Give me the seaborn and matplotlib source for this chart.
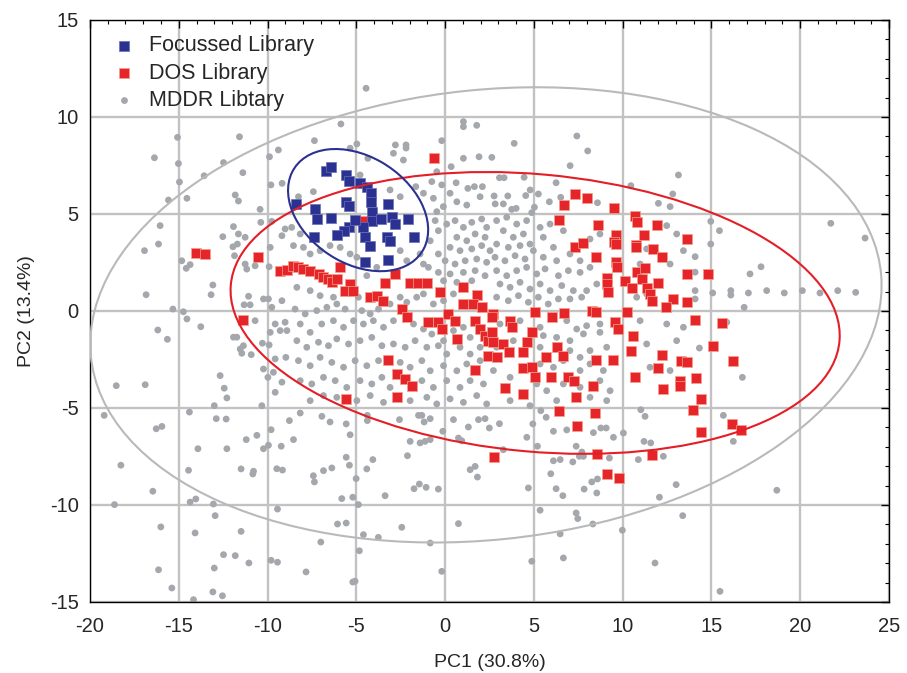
import matplotlib.pyplot as plt
import seaborn as sns
import pandas as pd
from matplotlib.patches import Ellipse
from matplotlib.ticker import MultipleLocator

sns.set_style("white")
plt.rcParams["font.family"] = ["Liberation Sans", "DejaVu Sans"]
plt.rcParams["axes.unicode_minus"] = False

# Focussed library (blue squares), PC1/PC2 scores
focussed_pts = [
    (-6.7, 7.2), (-6.4, 7.4), (-5.6, 7.0), (-5.4, 6.7), (-4.8, 6.6), (-4.4, 6.4),
    (-4.2, 6.1), (-4.2, 5.6), (-5.6, 5.6), (-5.4, 5.4), (-8.4, 5.5), (-7.3, 5.25),
    (-3.2, 5.5), (-4.1, 5.1), (-7.22, 4.74), (-6.44, 4.79), (-5.44, 4.35), (-5.7, 4.1),
    (-6.1, 3.93), (-7.38, 3.83), (-4.13, 4.66), (-3.62, 4.74), (-3.0, 4.83), (-2.82, 4.48),
    (-2.07, 4.74), (-4.6, 4.31), (-4.5, 3.8), (-4.22, 3.33), (-3.28, 3.8), (-3.1, 3.6),
    (-1.75, 3.8), (-4.5, 2.51), (-3.19, 2.63), (-5.07, 4.69),
]

# DOS library (red squares)
dos_pts = [
    (-0.62, 7.87), (-14.02, 2.99), (-13.51, 2.94), (-10.51, 2.77), (-9.29, 2.08), (-8.91, 2.11),
    (-11.39, -0.46), (-4.64, 4.62), (-8.54, 2.33), (-8.26, 2.25), (-7.98, 2.16), (-7.6, 2.08),
    (-7.13, 1.91), (-6.85, 1.74), (-6.57, 1.65), (-6.38, 1.48), (-6.1, 1.65), (-5.91, 2.25),
    (-5.35, 1.39), (-5.63, 1.05), (-5.16, 1.01), (-4.22, 0.71), (-3.85, 0.79), (-3.47, 0.5),
    (-3.38, 1.43), (-2.82, 1.91), (-1.97, 1.43), (-1.5, 1.43), (-1.03, 1.43), (-0.28, 0.96),
    (1.03, 1.22), (1.78, 0.84), (1.03, 0.36), (1.59, 0.36), (2.07, 0.19), (-2.44, 0.1),
    (-2.16, -0.32), (-0.94, -0.58), (-0.38, -0.58), (-0.19, -0.93), (0.19, -0.15), (0.56, -0.5),
    (1.69, -0.5), (1.97, -0.93), (2.25, -1.27), (2.44, -1.53), (0.66, -1.44), (2.44, -2.3),
    (1.69, -3.04), (-3.19, -2.51), (-2.72, -3.25), (-2.25, -3.5), (-1.88, -3.88), (-2.72, -4.42),
    (-5.57, -4.54), (7.32, 6.03), (7.98, 5.81), (6.7, 5.46), (9.52, 5.29),
    (6.44, 4.69), (8.63, 4.45), (10.7, 4.9), (10.79, 4.57), (11.95, 4.45), (9.63, 3.93),
    (9.52, 3.54), (9.63, 3.45), (11.2, 3.93), (13.65, 3.71), (7.32, 3.28), (7.79, 3.49),
    (10.75, 3.42), (10.75, 3.28), (11.69, 3.2), (8.5, 2.77), (12.2, 2.8), (9.63, 2.51),
    (9.67, 2.28), (10.79, 2.0), (11.26, 2.22), (13.65, 1.91), (9.1, 1.7), (9.14, 1.39),
    (9.2, 0.96), (10.14, 1.56), (10.51, 1.19), (11.07, 1.65), (11.36, 1.19), (11.54, 0.88),
    (11.67, 0.53), (12.01, 1.43), (12.82, 0.62), (12.44, 0.19), (13.65, 0.48), (2.72, -0.15),
    (2.63, -0.32), (3.66, -0.53), (3.75, -0.84), (5.07, -0.07), (6.01, -0.29), (6.7, -0.12),
    (8.26, 0.02), (8.5, -0.07), (10.27, -0.07), (9.57, -0.58), (9.76, -0.93), (4.88, -1.1),
    (2.63, -1.1), (2.72, -1.61), (3.28, -1.7), (4.6, -1.61), (10.6, -1.27), (3.62, -2.13),
    (4.37, -2.13), (2.91, -2.39), (6.29, -1.87), (6.63, -2.3), (5.69, -2.39), (10.46, -2.04),
    (8.5, -2.53), (9.44, -2.53), (12.2, -2.27), (13.27, -2.59), (13.6, -2.64), (4.41, -2.94),
    (4.88, -2.87), (5.07, -3.39), (5.97, -3.42), (6.94, -3.39), (7.28, -3.59), (12.01, -2.94),
    (10.7, -3.42), (13.23, -3.59), (13.23, -3.85), (3.38, -3.97), (4.37, -4.28), (8.35, -3.88),
    (12.26, -4.02), (7.38, -4.42), (14.83, 1.91), (14.08, -0.46), (15.58, -0.62), (15.07, -1.79),
    (16.2, -2.56), (14.13, -3.45), (14.41, -4.54), (6.44, -5.17), (8.45, -5.26), (7.42, -5.94),
    (2.76, -7.54), (8.58, -7.37), (11.64, -7.41), (9.1, -8.4), (9.81, -8.61), (13.98, -5.09),
    (14.4, -6.25), (16.14, -5.81), (16.67, -6.15),
]

# MDDR library (grey dots)
mddr_pts = [
    # upper left
    (-15.07, 8.95), (-11.58, 8.98), (-16.37, 7.9), (-15.02, 7.6), (-12.48, 7.65), (-9.89, 7.95),
    (-9.39, 8.3), (-13.57, 6.97), (-11.39, 7.13), (-14.96, 6.65), (-9.81, 6.5), (-9.18, 6.58),
    (-15.58, 5.72), (-14.54, 5.81), (-11.82, 5.98), (-11.64, 5.67), (-10.42, 5.24),
    # upper middle
    (-4.45, 11.48), (-5.87, 9.64), (1.03, 9.76), (1.03, 9.5), (1.78, 9.57), (-7.36, 8.78),
    (-5.35, 8.39), (-4.97, 8.61), (-2.8, 8.56), (-2.2, 8.56), (-2.2, 8.4), (-0.19, 8.78),
    (-2.91, 8.13), (-2.35, 7.78), (-4.35, 7.87), (1.03, 7.87), (1.91, 7.95), (0.34, 7.44),
    (-0.47, 7.18), (-4.79, 7.01), (-0.75, 6.67), (-0.19, 6.5), (-1.65, 6.41), (0.62, 6.61),
    (1.28, 6.32), (1.65, 6.41), (2.1, 6.41), (-7.42, 6.15), (-8.26, 5.89), (-3.1, 6.24),
    (-2.53, 5.89), (-1.22, 6.07), (-0.66, 5.81), (0.28, 6.07), (-0.1, 5.38), (0.66, 5.63),
    (1.22, 5.46), (1.97, 5.89), (-0.47, 5.12),
    # upper right
    (7.42, 9.02), (8.03, 8.25), (3.89, 8.64), (2.63, 7.92), (7.04, 7.49), (13.14, 7.01),
    (3.06, 6.87), (3.32, 6.87), (4.45, 6.89), (6.25, 6.61), (10.46, 6.46), (2.76, 5.93),
    (3.53, 5.93), (4.54, 5.95), (4.79, 6.24), (5.25, 6.03), (6.51, 5.86), (5.87, 5.63),
    (8.58, 5.58), (12.82, 6.03), (12.01, 5.55), (12.67, 5.38), (3.28, 5.52), (2.82, 5.52),
    (3.75, 5.24), (4.0, 5.29), (5.03, 5.35), (4.88, 5.07),
    # left middle
    (-16.05, 4.4), (-16.93, 3.11), (-16.14, 3.45), (-16.84, 0.84), (-14.83, 2.59), (-14.58, 2.2),
    (-14.36, 2.39), (-12.52, 3.83), (-11.92, 4.35), (-11.64, 3.97), (-11.26, 3.8), (-11.95, 3.31),
    (-11.7, 3.45), (-11.86, 2.85), (-11.26, 2.42), (-11.17, 2.16), (-10.7, 2.33), (-10.38, 4.57),
    (-9.76, 4.62), (-9.01, 4.23), (-9.19, 3.88), (-9.85, 3.28), (-9.91, 2.28), (-13.08, 1.34),
    (-13.18, 0.84), (-11.07, 0.76), (-11.32, 0.32), (-10.98, 0.32), (-10.23, 0.62), (-9.95, 0.62),
    (-9.76, 0.19), (-9.19, 0.53), (-10.7, -0.5), (-15.33, 0.1), (-14.74, -0.04), (-14.54, -0.41),
    (-13.76, -0.81), (-16.18, -0.98), (-15.64, -1.46), (-11.92, -1.35), (-11.73, -1.35),
    (-11.54, -1.96), (-11.36, -1.79), (-11.45, -2.18), (-10.92, -2.25), (-10.29, -1.66),
    (-9.91, -1.75), (-9.57, -0.67), (-9.01, -0.58), (-9.29, -1.01), (-8.91, -1.01), (-9.85, -1.1),
    (-9.57, -2.47), (-8.97, -2.39), (-10.23, -2.99), (-9.67, -3.16), (-9.98, -3.42), (-9.57, -4.19),
    (-9.19, -3.67), (-12.67, -3.33), (-12.44, -3.98), (-12.29, -4.48), (-18.52, -3.85),
    (-16.89, -3.8), (-13.0, -4.88), (-10.32, -4.88),
    # centre, around the blue cluster and the red band
    (-0.56, 4.66), (-0.38, 4.14), (-0.84, 3.62), (0.09, 4.48), (0.56, 4.66), (1.03, 4.31),
    (1.5, 4.57), (2.06, 4.74), (2.34, 4.31), (0.66, 3.8), (1.22, 3.62), (1.69, 3.97),
    (2.25, 3.8), (0.28, 3.28), (0.84, 3.11), (1.5, 3.2), (2.06, 3.37), (2.53, 3.11),
    (-0.38, 2.94), (0.0, 2.59), (0.56, 2.42), (1.13, 2.59), (1.78, 2.68), (2.34, 2.51),
    (-0.94, 2.25), (-0.38, 1.99), (0.28, 1.91), (1.03, 1.99), (1.69, 2.08), (2.25, 1.82),
    (-0.09, 1.56), (0.66, 1.48), (1.5, 1.56), (-8.64, 4.31), (-8.16, 3.97), (-8.54, 3.37),
    (-7.98, 3.28), (-7.6, 2.94), (-7.04, 3.11), (-6.48, 3.37), (-5.91, 3.28), (-5.35, 2.94),
    (-4.97, 2.77), (-2.53, 3.11), (-2.16, 2.59), (-1.41, 2.94), (-1.22, 2.42), (-3.85, 2.25),
    (-4.41, 1.82), (-8.35, 1.22), (-7.6, 1.05), (-7.04, 0.79), (-6.29, 0.71), (-8.45, 0.1),
    (-7.88, -0.15), (-7.23, 0.02), (-6.66, 0.19), (-6.1, 0.36), (-5.63, 0.1), (-4.88, 0.71),
    (-4.69, 0.02), (-4.22, -0.15), (-3.75, 0.1), (-3.1, 0.36), (-2.53, 0.71), (-2.16, 0.45),
    (-1.6, 0.71), (-1.22, 0.88), (-0.66, 0.36), (-0.09, 0.53), (0.47, 0.88), (-8.16, -0.67),
    (-7.6, -1.1), (-6.95, -0.67), (-6.29, -0.5), (-5.72, -0.84), (-5.16, -0.5), (-4.6, -0.67),
    (-4.04, -0.5), (-3.47, -0.84), (-2.91, -0.5), (-1.78, -0.67), (-1.22, -0.93), (-0.75, -1.19),
    (-0.09, -1.53), (0.47, -1.01), (1.03, -0.84), (1.41, -1.36), (1.97, -1.87), (-8.35, -1.53),
    (-7.79, -1.87), (-7.13, -1.61), (-6.57, -1.79), (-6.1, -1.44), (-5.44, -1.7), (-4.79, -1.53),
    (-4.13, -1.36), (-3.56, -1.79), (-2.91, -1.7), (-2.25, -1.87), (-1.69, -1.53), (-1.03, -1.87),
    (-0.38, -1.79), (0.09, -2.22), (0.84, -1.87), (1.41, -2.22), (-8.26, -2.56), (-7.6, -2.82),
    (-7.04, -2.39), (-6.38, -2.65), (-5.72, -2.9), (-5.07, -2.56), (-4.41, -2.82), (-3.75, -2.56),
    (-2.53, -2.65), (-1.97, -2.9), (-1.31, -2.56), (-0.84, -3.08), (-0.09, -2.82), (0.66, -3.08),
    (1.22, -2.73), (1.97, -2.56), (-8.16, -3.59), (-7.51, -3.76), (-6.85, -3.42), (-6.19, -3.59),
    (-5.54, -3.94), (-4.79, -3.59), (-4.13, -3.76), (-3.56, -3.42), (-3.1, -3.94), (-1.31, -3.59),
    (-0.66, -3.94), (0.09, -3.59), (0.84, -3.94), (1.41, -3.59), (2.16, -3.76), (-7.6, -4.62),
    (-6.85, -4.36), (-6.1, -4.45), (-4.97, -4.62), (-4.22, -4.36), (-3.47, -4.71), (-1.97, -4.62),
    (-1.03, -4.45), (-0.47, -4.79), (0.28, -4.53), (1.03, -4.71), (1.78, -4.36), (2.34, -4.79),
    # centre right
    (2.9, 4.66), (3.47, 4.83), (4.03, 4.48), (4.59, 4.66), (3.28, 4.14), (3.84, 3.8),
    (4.41, 3.97), (2.9, 3.45), (3.56, 3.28), (4.22, 3.37), (4.78, 3.45), (5.35, 4.31),
    (5.53, 3.8), (5.91, 4.48), (6.1, 3.28), (6.66, 4.14), (2.81, 2.77), (3.37, 2.59),
    (3.94, 2.85), (4.5, 2.68), (4.97, 3.11), (5.53, 2.77), (6.28, 2.59), (7.03, 2.94),
    (7.6, 2.59), (8.16, 3.71), (8.72, 3.97), (2.9, 2.08), (3.47, 1.82), (4.03, 2.08),
    (4.59, 2.25), (5.16, 1.91), (5.63, 2.17), (6.38, 1.82), (6.94, 2.08), (7.6, 1.99),
    (8.16, 2.25), (3.09, 1.39), (3.66, 1.22), (4.22, 1.48), (4.78, 1.13), (5.35, 1.39),
    (5.91, 1.05), (6.57, 1.31), (7.22, 1.05), (7.97, 1.05), (8.54, 1.39), (2.9, 0.71),
    (3.56, 0.53), (4.13, 0.79), (4.69, 0.45), (5.25, 0.71), (5.81, 0.36), (6.38, 0.62),
    (7.03, 0.62), (7.69, 0.71), (12.48, 4.4), (13.04, 3.97), (11.35, 3.2), (10.98, 2.42),
    (11.35, 0.88), (12.67, 2.42), (13.42, 3.11), (10.79, 0.71), (3.09, -0.67), (4.22, -0.5),
    (5.35, -0.84), (6.85, -0.5), (7.41, -0.93), (7.97, -0.76), (8.72, -0.67), (5.53, -1.27),
    (6.28, -1.36), (7.03, -1.53), (7.79, -1.18), (8.72, -1.1), (2.9, -1.87), (3.84, -1.53),
    (5.35, -1.87), (7.03, -2.04), (7.6, -2.39), (8.16, -2.04), (9.1, -1.87), (5.35, -2.73),
    (6.1, -2.9), (6.66, -2.56), (7.6, -3.07), (8.16, -2.73), (8.91, -3.07), (2.72, -3.07),
    (3.66, -3.42), (5.16, -3.76), (5.72, -4.11), (6.66, -3.76), (7.6, -3.93), (8.72, -3.59),
    (9.29, -4.11), (6.28, -4.62), (8.16, -4.45), (9.1, -4.62), (3.66, -4.62), (4.78, -4.88),
    (11.35, -1.7), (11.54, -2.9), (12.67, -3.07), (13.42, -0.84), (12.48, -0.67), (10.98, -0.5),
    (13.04, -1.53),
    # right
    (14.96, 4.62), (15.45, 4.14), (14.96, 3.45), (14.08, 2.8), (17.79, 2.28), (17.17, 1.91),
    (14.08, 2.0), (14.08, 1.05), (15.07, 0.93), (16.09, 1.05), (16.09, 0.82), (17.08, 0.93),
    (18.11, 1.05), (19.1, 0.93), (20.12, 1.05), (21.11, 0.93), (22.11, 1.05), (23.12, 0.96),
    (14.08, 0.62), (16.84, 0.19), (15.86, -0.58), (14.32, -1.91), (16.74, -3.42), (21.72, 4.52),
    (23.65, 3.76), (15.67, -5.38), (16.23, -6.72), (18.68, -9.24), (15.48, -14.45),
    # lower left
    (-19.2, -5.38), (-16.27, -6.07), (-15.95, -5.95), (-14.4, -5.21), (-12.89, -5.55),
    (-12.33, -5.57), (-18.26, -7.95), (-13.92, -7.1), (-12.29, -7.1), (-11.2, -6.63),
    (-10.6, -6.41), (-9.8, -6.12), (-8.77, -5.65), (-10.23, -7.1), (-9.95, -6.92), (-9.23, -6.97),
    (-14.45, -8.21), (-11.49, -8.14), (-10.79, -8.26), (-10.83, -8.4), (-9.48, -8.13),
    (-9.16, -8.2), (-16.46, -9.29), (-18.62, -9.98), (-14.36, -9.85), (-14.04, -9.69),
    (-13.05, -9.95), (-12.95, -10.55), (-9.44, -10.21), (-16.01, -11.13), (-14.08, -11.44),
    (-11.49, -11.36), (-12.48, -12.56), (-11.82, -12.61), (-11.05, -12.99), (-9.8, -12.85),
    (-9.44, -12.95), (-13.0, -13.25), (-16.14, -13.34), (-15.39, -14.28), (-13.08, -14.48),
    (-12.54, -14.68), (-14.17, -14.88),
    # lower middle
    (-8.16, -5.26), (-6.94, -5.43), (-6.48, -5.72), (-8.54, -6.63), (-5.57, -5.82), (-5.35, -6.38),
    (-4.38, -5.38), (-4.38, -5.65), (-2.57, -5.6), (-1.5, -5.38), (-1.31, -5.38), (-1.18, -5.72),
    (-0.84, -5.55), (-0.13, -6.2), (-1.97, -6.72), (-1.41, -6.8), (-1.13, -6.72), (-0.84, -6.63),
    (-2.12, -7.46), (0.47, -5.6), (1.31, -5.98), (1.88, -5.6), (2.25, -5.55), (2.49, -6.03),
    (0.75, -6.55), (0.94, -6.69), (-5.57, -7.54), (-5.39, -7.95), (-4.07, -7.66), (-4.41, -8.14),
    (-6.38, -8.09), (-6.85, -8.23), (-7.42, -8.49), (-7.36, -8.81), (-5.01, -8.64), (-5.82, -9.67),
    (-5.2, -9.6), (-4.88, -9.98), (-3.38, -9.52), (-1.75, -9.16), (-1.45, -8.92), (-1.07, -9.09),
    (-0.38, -9.18), (1.41, -8.18), (1.69, -8.01), (1.82, -8.56), (-6.06, -10.98), (-5.57, -10.93),
    (-2.44, -11.15), (0.75, -10.96), (-4.6, -11.53), (-3.76, -11.67), (-7.0, -11.91),
    (-0.84, -11.96), (-4.83, -12.36), (-7.83, -13.45), (-0.19, -13.42), (-5.2, -13.97),
    (-5.07, -13.93),
    # lower right
    (3.06, -5.81), (4.94, -5.82), (4.6, -6.51), (3.28, -7.15), (5.2, -6.97), (5.39, -5.14),
    (5.69, -5.48), (6.1, -6.2), (6.85, -6.13), (8.35, -6.27), (8.77, -6.03), (9.07, -6.03),
    (9.48, -6.51), (10.04, -6.29), (11.02, -5.09), (11.26, -5.43), (11.2, -6.72), (11.58, -6.8),
    (7.38, -6.97), (7.7, -7.27), (7.56, -7.49), (7.79, -7.49), (6.1, -7.72), (6.48, -7.66),
    (7.19, -7.78), (9.25, -7.58), (10.88, -7.66), (12.29, -7.49), (5.95, -8.39), (4.69, -9.12),
    (6.25, -9.16), (6.63, -9.52), (7.83, -9.18), (8.26, -8.81), (8.58, -8.66), (8.54, -9.38),
    (13.01, -8.95), (12.07, -9.6), (5.35, -10.27), (7.38, -10.41), (7.47, -10.7), (8.32, -10.98),
    (9.98, -11.3), (6.48, -11.49), (13.38, -10.55), (4.88, -12.9), (6.66, -12.73), (11.82, -12.99),
]

X_TICKS = [-20, -15, -10, -5, 0, 5, 10, 15, 20, 25]
Y_TICKS = [-15, -10, -5, 0, 5, 10, 15]


def to_frame(points):
    return pd.DataFrame(points, columns=["pc1", "pc2"])


def main():
    fig = plt.figure(figsize=(9.07, 6.73), dpi=100)
    ax = fig.add_axes([0.0992, 0.1055, 0.8810, 0.8648])

    ax.grid(True, which="major", color="#c2c2c2", linewidth=1.7)
    ax.set_axisbelow(True)

    sns.scatterplot(data=to_frame(mddr_pts), x="pc1", y="pc2", ax=ax,
                    marker="o", s=24, color="#a4a7ab", edgecolor="none",
                    label="MDDR Libtary", zorder=2)
    sns.scatterplot(data=to_frame(dos_pts), x="pc1", y="pc2", ax=ax,
                    marker="s", s=42, color="#e6252a", edgecolor="#f6a08a",
                    linewidth=0.5, label="DOS Library", zorder=3)
    sns.scatterplot(data=to_frame(focussed_pts), x="pc1", y="pc2", ax=ax,
                    marker="s", s=42, color="#2b3190", edgecolor="#6a6fb8",
                    linewidth=0.5, label="Focussed Library", zorder=4)

    # confidence ellipses
    ax.add_patch(Ellipse((2.3, -0.2), 44.7, 23.2, angle=5.3, fill=False,
                         edgecolor="#b9b9b9", linewidth=1.5, zorder=5))
    ax.add_patch(Ellipse((5.07, -0.1), 34.4, 14.3, angle=-4.7, fill=False,
                         edgecolor="#e41e26", linewidth=1.5, zorder=5))
    ax.add_patch(Ellipse((-4.9, 5.2), 8.4, 5.6, angle=-27.4, fill=False,
                         edgecolor="#2b3190", linewidth=1.5, zorder=5))

    ax.set_xlim(-20, 25)
    ax.set_ylim(-15, 15)
    ax.set_xticks(X_TICKS)
    ax.set_yticks(Y_TICKS)
    ax.xaxis.set_minor_locator(MultipleLocator(1))
    ax.yaxis.set_minor_locator(MultipleLocator(1))
    ax.tick_params(which="both", direction="in", top=True, right=True,
                   labelsize=14.5, color="black")
    ax.tick_params(which="major", length=6, width=1)
    ax.tick_params(axis="x", which="major", pad=11)
    ax.tick_params(axis="y", which="major", pad=8)
    ax.tick_params(which="minor", length=3, width=0.8)
    for spine in ax.spines.values():
        spine.set_color("black")
        spine.set_linewidth(1)

    ax.set_xlabel("PC1 (30.8%)", fontsize=14, labelpad=13)
    ax.set_ylabel("PC2 (13.4%)", fontsize=14, labelpad=11)

    handles, labels = ax.get_legend_handles_labels()
    order = [labels.index(n) for n in ["Focussed Library", "DOS Library", "MDDR Libtary"]]
    ax.legend([handles[i] for i in order], [labels[i] for i in order],
              loc="upper left", bbox_to_anchor=(-0.008, 1.007), frameon=False,
              fontsize=15.5, handletextpad=0.15, labelspacing=0.3, borderaxespad=0.5)

    fig.savefig("out.png", dpi=100)
    plt.close(fig)


if __name__ == "__main__":
    main()
